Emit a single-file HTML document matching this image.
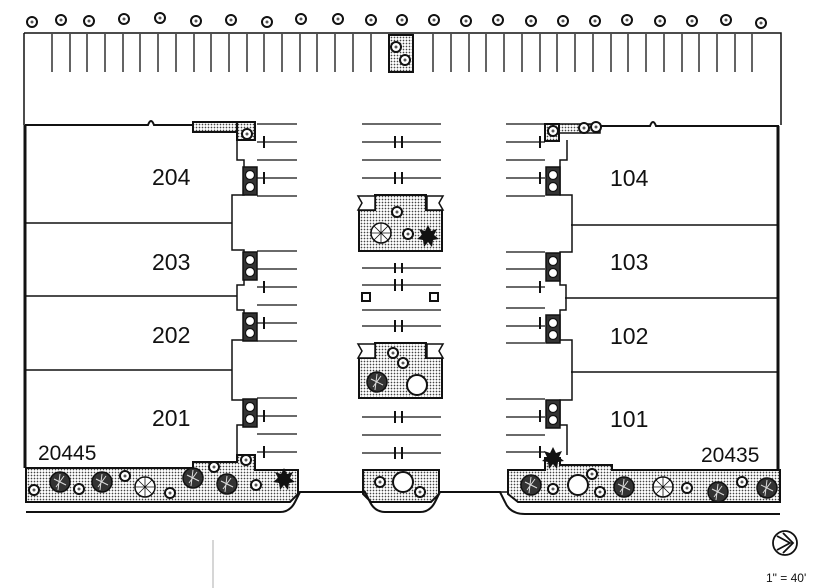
<!DOCTYPE html>
<html><head><style>
html,body{margin:0;padding:0;background:#fff;width:826px;height:588px;overflow:hidden}
svg{display:block}
text{font-family:"Liberation Sans",sans-serif;fill:#111}
</style></head><body>
<svg width="826" height="588" viewBox="0 0 826 588" xmlns="http://www.w3.org/2000/svg">
<defs>
<pattern id="dots" width="3" height="3" patternUnits="userSpaceOnUse"><rect width="3" height="3" fill="#fff"/><circle cx="1.5" cy="1.5" r="0.85" fill="#444"/></pattern>
<g id="t"><circle r="5" fill="#fff" stroke="#111" stroke-width="2"/><circle r="1.5" fill="#555"/></g>
<g id="tb"><circle r="10" fill="#333" stroke="#111" stroke-width="1.5"/><path d="M-6,-3 L6,3 M-4,5 L4,-6 M0,-8 L-2,8" stroke="#ddd" stroke-width="1"/></g>
<g id="tw"><circle r="10" fill="#fff" stroke="#111" stroke-width="1.5"/><path d="M-10,0H10M0,-10V10M-7,-7L7,7M-7,7L7,-7" stroke="#111" stroke-width="0.8"/></g>
<g id="to"><circle r="10" fill="#fff" stroke="#111" stroke-width="2"/></g>
<g id="sp"><rect x="-7" y="-14" width="14" height="28" fill="#333" stroke="#111" stroke-width="1.5"/><circle cy="-6" r="4.5" fill="#fff" stroke="#111" stroke-width="1.2"/><circle cy="6" r="4.5" fill="#fff" stroke="#111" stroke-width="1.2"/></g>
<path id="star" d="M0,-11 L3,-5 9,-7 6,-1 11,3 5,4 4,11 0,6 -4,11 -5,4 -11,3 -6,-1 -9,-7 -3,-5Z" fill="#111"/>
</defs>
<g stroke="#111" fill="none">
<path d="M24,33 H781 V125" stroke-width="1.5"/>
<path d="M24,33 V125" stroke-width="1.5"/>
<g stroke-width="1.3">
<path d="M52,34V72M70,34V72M87,34V72M105,34V72M123,34V72M140,34V72M158,34V72M176,34V72M194,34V72M211,34V72M229,34V72M247,34V72M264,34V72M282,34V72M300,34V72M317,34V72M335,34V72M353,34V72M371,34V72"/>
<path d="M433,34V72M451,34V72M469,34V72M486,34V72M504,34V72M522,34V72M540,34V72M557,34V72M575,34V72M593,34V72M611,34V72M628,34V72M646,34V72M664,34V72M682,34V72M699,34V72M717,34V72M735,34V72M752,34V72"/>
</g>
<rect x="389" y="35" width="24" height="37" fill="url(#dots)" stroke-width="2"/>
<path d="M25,125 H148 q3,-8 6,0 H193" stroke-width="2"/>
<path d="M25,125 V468" stroke-width="3"/>
<path d="M25,223 H232 M25,296 H237 M25,370 H232" stroke-width="1.5"/>
<path d="M237,140 V160 H244 V195 H232 V250 H244 V285 H237 V310 H244 V340 H232 V400 H244 V425 H237 V455" stroke-width="1.5"/>
<rect x="193" y="122" width="62" height="10" fill="url(#dots)" stroke-width="2"/>
<rect x="237" y="122" width="18" height="18" fill="url(#dots)" stroke-width="2"/>
<path d="M560,126 H650 q3,-8 6,0 H778 V470" stroke-width="2"/>
<path d="M778,126 V470" stroke-width="3"/>
<path d="M571,225 H778 M565,298 H778 M571,372 H778" stroke-width="1.5"/>
<path d="M567,140 V160 H560 V195 H572 V252 H560 V285 H566 V310 H560 V340 H572 V400 H560 V425 H567 V455" stroke-width="1.5"/>
<rect x="545" y="124" width="55" height="9" fill="url(#dots)" stroke-width="1.5"/>
<rect x="545" y="124" width="14" height="17" fill="url(#dots)" stroke-width="2"/>
<g stroke-width="1.2">
<path d="M257,124H297M257,142H297M257,160H297M257,178H297M257,196H297M257,251H297M257,269H297M257,287H297M257,305H297M257,323H297M257,341H297M257,398H297M257,416H297M257,434H297M257,452H297"/>
<path d="M506,124H545M506,142H545M506,160H545M506,178H545M506,196H545M506,252H545M506,269H545M506,287H545M506,308H545M506,326H545M506,343H545M506,399H545M506,417H545M506,435H545M506,452H545"/>
<path d="M362,124H441M362,142H441M362,160H441M362,178H441M362,268H441M362,285H441M362,310H441M362,326H441M362,417H441M362,435H441M362,453H441"/>
<path d="M264,136V148M264,172V184M264,281V293M264,317V329M264,410V422M264,446V458M540,136V148M540,172V184M540,281V293M540,317V329M540,410V422M540,446V458" stroke-width="2"/>
<path d="M395,136V148M402,136V148M395,172V184M402,172V184M395,263V273M402,263V273M395,279V291M402,279V291M395,320V332M402,320V332M395,411V423M402,411V423M395,447V459M402,447V459" stroke-width="2"/>
</g>
<path d="M375,195 H426 V210 H442 V251 H359 V210 H375Z" fill="url(#dots)" stroke-width="2"/>
<path d="M358,196H375V210H358l4,-7z M427,196H443l-4,7l4,7H427z" fill="#fff" stroke-width="1.5"/>
<path d="M375,343 H426 V358 H442 V398 H359 V358 H375Z" fill="url(#dots)" stroke-width="2"/>
<path d="M358,344H375V358H358l4,-7z M427,344H443l-4,7l4,7H427z" fill="#fff" stroke-width="1.5"/>
<rect x="362" y="293" width="8" height="8" stroke-width="2"/><rect x="430" y="293" width="8" height="8" stroke-width="2"/>
<path d="M26,468 H193 V462 H237 V455 H255 V470 H298 V494 L290,502 H26Z" fill="url(#dots)" stroke-width="2"/>
<path d="M508,470 H545 V458 H560 V465 H612 V470 H780 V502 H518 L508,494Z" fill="url(#dots)" stroke-width="2"/>
<path d="M363,470 H439 V494 L431,502 H371 L363,494Z" fill="url(#dots)" stroke-width="2"/>
<path d="M26,512 H280 Q290,512 295,502 L300,492 H365 L370,502 Q375,512 385,512 H420 Q430,512 435,502 L440,492 H500 L505,502 Q510,514 525,514 H780" stroke-width="2"/>
<path d="M298,492 H365 M440,492 H508" stroke-width="1.5"/>
<path d="M213,540 V588" stroke="#999" stroke-width="0.8"/>
</g>
<use href="#sp" x="250" y="181"/><use href="#sp" x="250" y="266"/><use href="#sp" x="250" y="327"/><use href="#sp" x="250" y="413"/>
<use href="#sp" x="553" y="181"/><use href="#sp" x="553" y="267"/><use href="#sp" x="553" y="329"/><use href="#sp" x="553" y="414"/>
<g>
<use href="#t" x="32" y="22"/><use href="#t" x="61" y="20"/><use href="#t" x="89" y="21"/><use href="#t" x="124" y="19"/><use href="#t" x="160" y="18"/><use href="#t" x="196" y="21"/><use href="#t" x="231" y="20"/><use href="#t" x="267" y="22"/><use href="#t" x="301" y="19"/><use href="#t" x="338" y="19"/><use href="#t" x="371" y="20"/><use href="#t" x="402" y="20"/><use href="#t" x="434" y="20"/><use href="#t" x="466" y="21"/><use href="#t" x="498" y="20"/><use href="#t" x="531" y="21"/><use href="#t" x="563" y="21"/><use href="#t" x="595" y="21"/><use href="#t" x="627" y="20"/><use href="#t" x="660" y="21"/><use href="#t" x="692" y="21"/><use href="#t" x="726" y="20"/><use href="#t" x="761" y="23"/>
<use href="#t" x="396" y="47"/><use href="#t" x="405" y="60"/>
<use href="#t" x="34" y="490"/><use href="#t" x="125" y="476"/><use href="#t" x="79" y="489"/><use href="#t" x="170" y="493"/><use href="#t" x="214" y="467"/><use href="#t" x="256" y="485"/><use href="#t" x="246" y="460"/>
<use href="#tb" x="60" y="482"/><use href="#tb" x="102" y="482"/><use href="#tb" x="193" y="478"/><use href="#tb" x="227" y="484"/><use href="#tw" x="145" y="487"/>
<use href="#star" x="284" y="479"/>
<use href="#tw" x="381" y="233"/><use href="#t" x="408" y="234"/><use href="#t" x="397" y="212"/><use href="#star" x="428" y="236"/>
<use href="#t" x="393" y="353"/><use href="#t" x="403" y="363"/><use href="#tb" x="377" y="382"/><use href="#to" x="417" y="385"/>
<use href="#t" x="380" y="482"/><use href="#to" x="403" y="482"/><use href="#t" x="420" y="492"/>
<use href="#tb" x="531" y="485"/><use href="#t" x="553" y="489"/><use href="#to" x="578" y="485"/><use href="#t" x="600" y="492"/><use href="#tb" x="624" y="487"/><use href="#tw" x="663" y="487"/><use href="#t" x="687" y="488"/><use href="#tb" x="718" y="492"/><use href="#t" x="742" y="482"/><use href="#tb" x="767" y="488"/><use href="#t" x="592" y="474"/>
<use href="#star" x="553" y="458"/>
<use href="#t" x="553" y="131"/><use href="#t" x="584" y="128"/><use href="#t" x="596" y="127"/>
<use href="#t" x="247" y="134"/>
</g>
<g font-size="23">
<text x="152" y="185">204</text><text x="152" y="270">203</text><text x="152" y="343">202</text><text x="152" y="426">201</text>
<text x="610" y="186">104</text><text x="610" y="270">103</text><text x="610" y="344">102</text><text x="610" y="427">101</text>
</g>
<text x="38" y="460" font-size="21">20445</text>
<text x="701" y="462" font-size="21">20435</text>
<circle cx="785" cy="543" r="12" fill="#fff" stroke="#111" stroke-width="1.8"/>
<path d="M777,536 L790,543 L777,550 M783,533 L793,543 L783,553" fill="none" stroke="#111" stroke-width="1.8"/>
<text x="766" y="582" font-size="12">1" = 40'</text>
</svg>
</body></html>
